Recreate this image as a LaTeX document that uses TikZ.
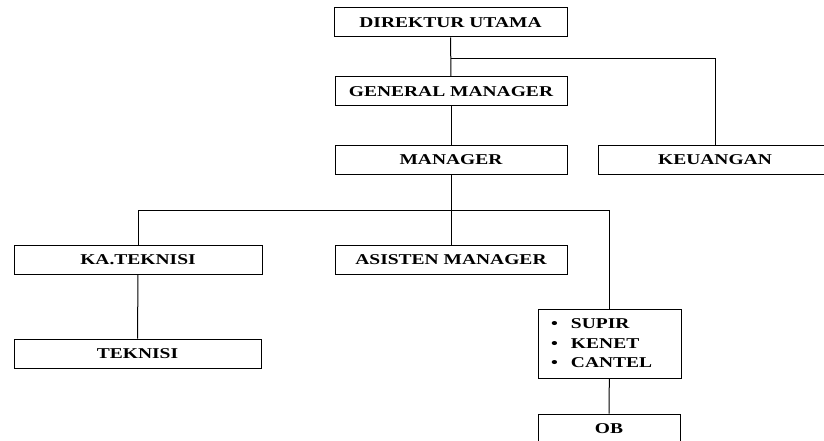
\documentclass[tikz,border=0pt]{standalone}
\usepackage{fontspec}
\setmainfont{Liberation Serif}[FakeStretch=1.3]
\usepackage{tikz}
\usetikzlibrary{positioning}

\begin{document}
\begin{tikzpicture}[x=1pt,y=-1pt,line width=1pt,
    box/.style={draw,minimum height=29pt,inner sep=0pt,
        font=\bfseries\fontsize{15}{19.5}\selectfont}]
    \useasboundingbox (0,0) rectangle (824,441);
    \clip (0,0) rectangle (824,441);
    \node[box,minimum width=233pt] (dir) at (450.5,22.5) {DIREKTUR UTAMA};
    \node[box,minimum width=232pt] (gm) at (451,91.5) {GENERAL MANAGER};
    \node[box,minimum width=232pt] (mgr) at (451,159.5) {MANAGER};
    \node[box,minimum width=234pt] (keu) at (715,159.5) {KEUANGAN};
    \node[box,minimum width=248pt] (kat) at (138,259.5) {KA.TEKNISI};
    \node[box,minimum width=247pt] (tek) at (137.5,353.5) {TEKNISI};
    \node[box,minimum width=232pt] (asm) at (451,259.5) {ASISTEN MANAGER};
    \node[box,minimum width=143pt,minimum height=69pt,text width=143pt,align=left] (sup) at (609.5,343.5)
        {\hspace*{13pt}\makebox[20pt][l]{\textbullet}SUPIR\\
         \hspace*{13pt}\makebox[20pt][l]{\textbullet}KENET\\
         \hspace*{13pt}\makebox[20pt][l]{\textbullet}CANTEL};
    \node[box,minimum width=142pt] (ob) at (609,428.5) {OB};
    \coordinate (j1) at (451,59);
    \coordinate (j2) at (451,210);
    \draw (dir) -- (gm);
    \draw (j1) -| (keu.north);
    \draw (gm) -- (mgr);
    \draw (mgr) -- (asm);
    \draw (j2) -| (kat.north);
    \draw (j2) -| (sup.north);
    \draw (kat) -- (tek);
    \draw (sup) -- (ob);
\end{tikzpicture}
\end{document}
